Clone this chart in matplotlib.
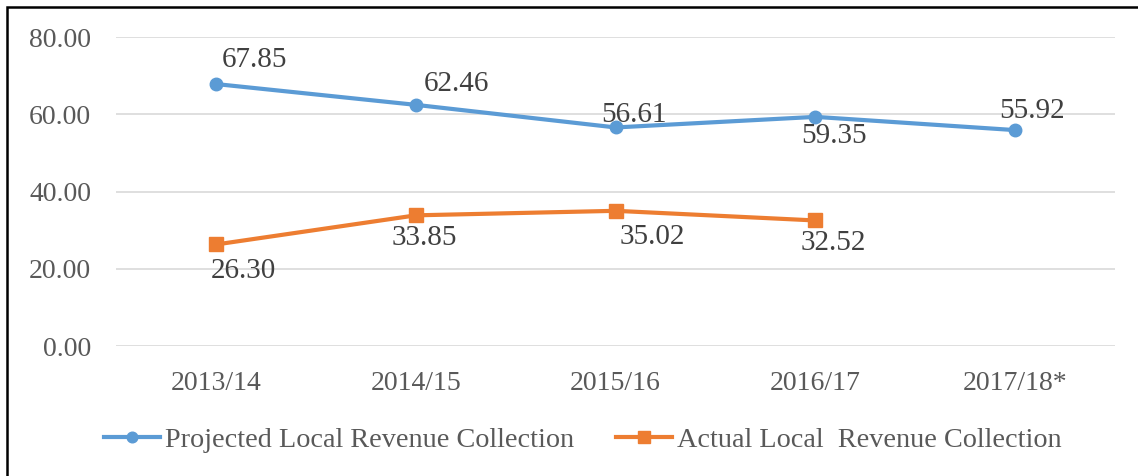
import matplotlib.pyplot as plt
import matplotlib.patches as patches

# === Data ===
years = ["2013/14", "2014/15", "2015/16", "2016/17", "2017/18*"]
projected = [67.85, 62.46, 56.61, 59.35, 55.92]
actual = [26.30, 33.85, 35.02, 32.52]

# label offsets (points) as placed in the original
proj_offsets = [(28, 17), (29, 15), (13, 9), (13, -14), (12, 14)]
act_offsets = [(20, -19), (6, -16), (26, -19), (13, -16)]

blue = '#5B9BD5'
orange = '#ED7D31'
grey = '#595959'

plt.rcParams['font.family'] = ['Liberation Serif', 'DejaVu Serif']

fig = plt.figure(figsize=(11.38, 4.76), dpi=100)
ax = fig.add_axes([0.102, 0.273, 0.878, 0.649])

x = list(range(len(years)))
ax.plot(x, projected, color=blue, lw=3, marker='o', ms=9,
        label="Projected Local Revenue Collection")
ax.plot(x[:len(actual)], actual, color=orange, lw=3, marker='s', ms=10,
        label="Actual Local  Revenue Collection")

for xi, v, off in zip(x, projected, proj_offsets):
    ax.annotate(f"{v:.2f}", (xi, v), xytext=off, textcoords='offset points',
                ha='center', va='center', fontsize=21, color='#404040')
for xi, v, off in zip(x, actual, act_offsets):
    ax.annotate(f"{v:.2f}", (xi, v), xytext=off, textcoords='offset points',
                ha='center', va='center', fontsize=21, color='#404040')

ax.set_xlim(-0.5, len(years) - 0.5)
ax.set_ylim(0, 80)
ax.set_yticks([0, 20, 40, 60, 80])
ax.set_yticklabels([f"{t:.2f}" for t in [0, 20, 40, 60, 80]])
ax.set_xticks(x)
ax.set_xticklabels(years)
ax.tick_params(length=0, labelsize=20, labelcolor=grey)
ax.tick_params(axis='x', pad=18)
ax.tick_params(axis='y', pad=18)
ax.yaxis.grid(True, color='#D9D9D9', lw=1.2)
ax.set_axisbelow(True)
for s in ax.spines.values():
    s.set_visible(False)

fig.legend(loc='center', bbox_to_anchor=(0.512, 0.076), ncol=2, frameon=False,
           fontsize=20.3, labelcolor=grey, handlelength=2.0, handletextpad=0.15,
           columnspacing=1.5, markerscale=0.85)

# outer frame (only top and left edges visible in the crop)
fig.patches.append(patches.Rectangle((7 / 1138, -0.2), 1.2, 1.2 - 7 / 476,
                                     transform=fig.transFigure, fill=False,
                                     edgecolor='black', lw=1.8))

plt.savefig("out.png", dpi=100)
